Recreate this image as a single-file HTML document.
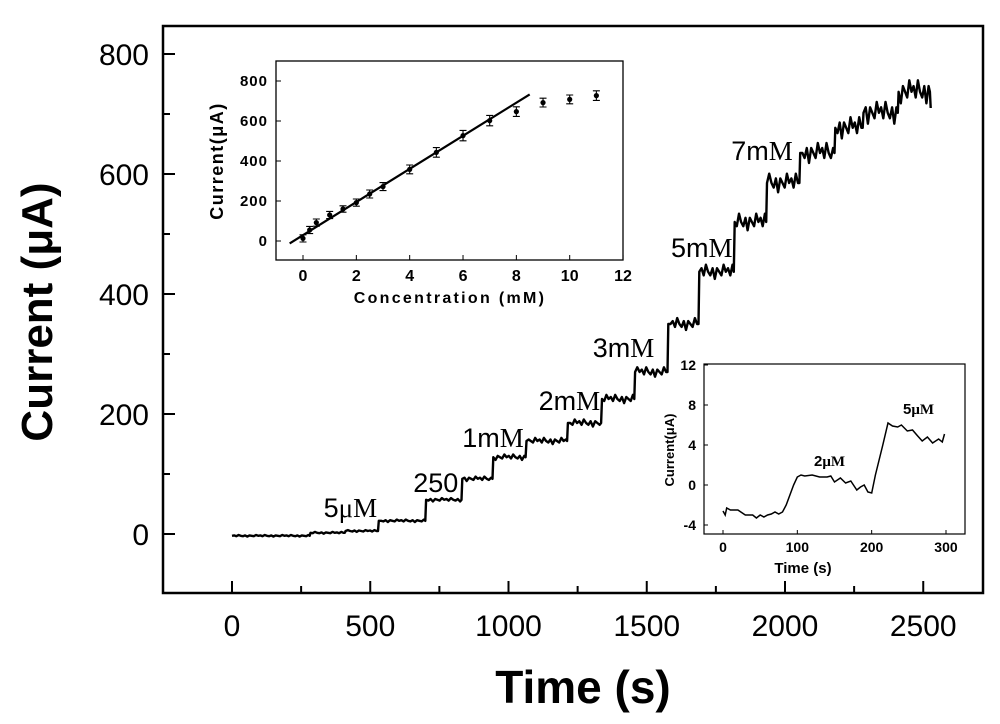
<!DOCTYPE html>
<html><head><meta charset="utf-8"><style>
html,body{margin:0;padding:0;background:#fff}
svg{display:block}
text{font-family:"Liberation Sans",Arial,sans-serif;fill:#000}
.serif{font-family:"Liberation Serif",serif}
</style></head><body>
<svg id="chart" width="1000" height="724" viewBox="0 0 1000 724">
<g id="main"></g>
<g id="ins1"></g>
<g id="ins2"></g>
</svg>
<script>
// main trace: step times (s) and levels (µA)
const stepTimes = [0, 284, 411, 531, 702, 833, 945, 1065, 1215, 1338, 1458, 1578, 1690, 1818, 1935, 2055, 2182, 2284, 2411, 2527];
const stepLevels = [-3, 2, 5, 22, 57, 92, 128, 155, 185, 225, 270, 350, 437, 520, 585, 635, 677, 702, 737, 710];
const mainXTicks = [0, 500, 1000, 1500, 2000, 2500];
const mainYTicks = [0, 200, 400, 600, 800];
const annNums = ["5", "250", "1m", "2m", "3m", "5m", "7m"];
const annUnits = ["μM", "", "M", "M", "M", "M", "M"];
const annTimes = [428, 737, 944, 1220, 1416, 1699, 1917];
const annVals = [28, 70, 145, 207, 295, 462, 623];
// inset 1: calibration
const concs = [0, 0.25, 0.5, 1, 1.5, 2, 2.5, 3, 4, 5, 6, 7, 8, 9, 10, 11];
const currents = [13, 55, 92, 130, 160, 192, 235, 272, 358, 443, 527, 602, 647, 692, 708, 727];
const errs = [18, 18, 18, 18, 16, 18, 20, 20, 22, 24, 26, 26, 24, 22, 22, 24];
const fitX = [-0.5, 8.5];
const fitY = [-12, 733];
const in1XTicks = [0, 2, 4, 6, 8, 10, 12];
const in1YTicks = [0, 200, 400, 600, 800];
// inset 2: low conc trace
const in2T = [0,3,5,10,20,30,40,45,50,55,60,65,70,75,80,85,90,95,100,105,110,120,130,140,145,150,158,165,172,180,185,190,195,200,205,210,215,222,228,235,240,248,255,262,268,275,282,290,295,298];
const in2I = [-2.6,-3.0,-2.3,-2.5,-2.5,-3.0,-3.0,-3.3,-3.0,-3.2,-3.0,-2.9,-2.7,-2.9,-2.7,-2.0,-1.0,0,0.8,1.0,0.9,1.0,0.8,0.8,0.9,0.3,0.7,0.2,0.4,-0.5,-0.2,0,-0.7,-0.8,1.0,2.5,4.0,6.2,5.9,5.8,6.0,5.4,5.5,4.9,4.4,4.8,4.2,4.6,4.3,5.1];
const in2XTicks = [0, 100, 200, 300];
const in2YTicks = [-4, 0, 4, 8, 12];

const NS = "http://www.w3.org/2000/svg";
function mk(parent, tag, attrs, txt){const e=document.createElementNS(NS,tag);for(const k in attrs)e.setAttribute(k,attrs[k]);if(txt!==undefined)e.textContent=txt;parent.appendChild(e);return e;}

// ---------- MAIN ----------
const M = document.getElementById('main');
const L=163,R=983,T=26,B=593;
const xm = t => 232 + t*0.2765;
const ym = v => 534 - v*0.6;
let frame = mk(M,'rect',{x:L,y:T,width:R-L,height:B-T,fill:'none',stroke:'#000','stroke-width':2.5});


mainXTicks.forEach(t=>{
  let l=mk(M,'line',{x1:xm(t),x2:xm(t),y1:B,y2:B-12,stroke:'#000','stroke-width':2});
  
  
  if(xm(t+250)<R-2){let m=mk(M,'line',{x1:xm(t+250),x2:xm(t+250),y1:B,y2:B-7,stroke:'#000','stroke-width':2});
  
  }
  let tx=mk(M,'text',{x:xm(t),y:B+43,'text-anchor':'middle','font-size':30},t);
  
  
});
mainYTicks.forEach(v=>{
  let l=mk(M,'line',{x1:L,x2:L+12,y1:ym(v),y2:ym(v),stroke:'#000','stroke-width':2});
  
  
  if(v<800){let m=mk(M,'line',{x1:L,x2:L+7,y1:ym(v+100),y2:ym(v+100),stroke:'#000','stroke-width':2});
  
  }
  let tx=mk(M,'text',{x:L-14,y:ym(v)+11,'text-anchor':'end','font-size':30},v);
  
  
});
let xt=mk(M,'text',{x:583,y:703,'text-anchor':'middle','font-size':46,'font-weight':'bold'},'Time (s)');


let yt=mk(M,'text',{x:0,y:0,'text-anchor':'middle','font-size':44,'font-weight':'bold',transform:'translate(52,312) rotate(-90)'},'Current (μA)');


const wob=[0,1,-1,2,0,-1,1,-2,1,0,-1,2];
let d='';
for(let i=0;i<stepLevels.length;i++){
  const t0=stepTimes[i], t1=(i+1<stepTimes.length)?stepTimes[i+1]:t0, v=stepLevels[i];
  d += (i===0?'M':'L')+xm(t0).toFixed(1)+','+ym(v).toFixed(1);
  if(i+1<stepTimes.length){
    const n=Math.max(2,Math.round((t1-t0)/8));
    for(let k=1;k<n;k++){const tt=t0+(t1-t0)*k/n;const w=wob[(k+i)%wob.length]*(0.7+v*0.012);d+='L'+xm(tt).toFixed(1)+','+ym(v+w).toFixed(1);}
    d+='L'+xm(t1-3).toFixed(1)+','+ym(v).toFixed(1);
  }
}
let tr=mk(M,'path',{d:d,fill:'none',stroke:'#000','stroke-width':2.4,'stroke-linejoin':'round'});


annNums.forEach((s,i)=>{
  let tx=mk(M,'text',{x:xm(annTimes[i]),y:ym(annVals[i]),'font-size':27,'text-anchor':'middle'});
  
  
  mk(tx,'tspan',{},s);
  if(annUnits[i]) mk(tx,'tspan',{class:'serif'},annUnits[i]);
});

// ---------- INSET 1 ----------
const I1=document.getElementById('ins1');
const aL=276,aR=623,aT=61,aB=260;
const x1=c=>303+c*26.67, y1=v=>241-v*0.2;
let f1=mk(I1,'rect',{x:aL,y:aT,width:aR-aL,height:aB-aT,fill:'#fff',stroke:'#000','stroke-width':1.3});


in1XTicks.forEach(c=>{
  let l=mk(I1,'line',{x1:x1(c),x2:x1(c),y1:aB,y2:aB-5,stroke:'#000'});
  
  
  let tx=mk(I1,'text',{x:x1(c),y:aB+21,'text-anchor':'middle','font-size':16,'font-weight':'bold'},c);
  
  
});
in1YTicks.forEach(v=>{
  let l=mk(I1,'line',{x1:aL,x2:aL+5,y1:y1(v),y2:y1(v),stroke:'#000'});
  
  
  let tx=mk(I1,'text',{x:aL-8,y:y1(v)+5,'text-anchor':'end','font-size':15,'font-weight':'bold','letter-spacing':'1'},v);
  
  
});
let t1x=mk(I1,'text',{x:450,y:303,'text-anchor':'middle','font-size':16,'font-weight':'bold','letter-spacing':'2.3'},'Concentration (mM)');


let t1y=mk(I1,'text',{x:0,y:0,'text-anchor':'middle','font-size':18,'font-weight':'bold','letter-spacing':'1.5',transform:'translate(223,161) rotate(-90)'},'Current(μA)');


let fl=mk(I1,'line',{x1:x1(fitX[0]),y1:y1(fitY[0]),x2:x1(fitX[1]),y2:y1(fitY[1]),stroke:'#000','stroke-width':2.2});


concs.forEach((c,i)=>{
  const cx=x1(c), cy=y1(currents[i]), e=errs[i]*0.2;
  let g=mk(I1,'g',{});
  
  
  mk(g,'path',{d:`M${cx},${cy-e}V${cy+e}M${cx-3.5},${cy-e}H${cx+3.5}M${cx-3.5},${cy+e}H${cx+3.5}`,stroke:'#000','stroke-width':1.1,fill:'none'});
  mk(g,'circle',{cx:cx,cy:cy,r:2.6,fill:'#000'});
});

// ---------- INSET 2 ----------
const I2=document.getElementById('ins2');
const bL=704,bR=965,bT=364,bB=534;
const x2=t=>723+t*0.7433, y2=v=>485-v*10;
let f2=mk(I2,'rect',{x:bL,y:bT,width:bR-bL,height:bB-bT,fill:'#fff',stroke:'#000','stroke-width':1.2});


in2XTicks.forEach(t=>{
  let l=mk(I2,'line',{x1:x2(t),x2:x2(t),y1:bB,y2:bB-4,stroke:'#000'});
  
  
  let tx=mk(I2,'text',{x:x2(t),y:bB+18,'text-anchor':'middle','font-size':14,'font-weight':'bold'},t);
  
  
});
in2YTicks.forEach(v=>{
  let l=mk(I2,'line',{x1:bL,x2:bL+4,y1:y2(v),y2:y2(v),stroke:'#000'});
  
  
  let tx=mk(I2,'text',{x:bL-8,y:y2(v)+5,'text-anchor':'end','font-size':14,'font-weight':'bold'},v);
  
  
});
let t2x=mk(I2,'text',{x:803,y:573,'text-anchor':'middle','font-size':15,'font-weight':'bold'},'Time (s)');


let t2y=mk(I2,'text',{x:0,y:0,'text-anchor':'middle','font-size':13,'font-weight':'bold',transform:'translate(674,450) rotate(-90)'},'Current(μA)');


let d2=in2T.map((t,i)=>(i?'L':'M')+x2(t).toFixed(1)+','+y2(in2I[i]).toFixed(1)).join('');
let p2=mk(I2,'path',{d:d2,fill:'none',stroke:'#000','stroke-width':1.5});


[['2','μM',814,466],['5','μM',903,414]].forEach(a=>{
  let tx=mk(I2,'text',{x:a[2],y:a[3],'font-size':15,'font-weight':'bold'});
  
  
  mk(tx,'tspan',{},a[0]);mk(tx,'tspan',{class:'serif'},a[1]);
});
</script>
</body></html>
